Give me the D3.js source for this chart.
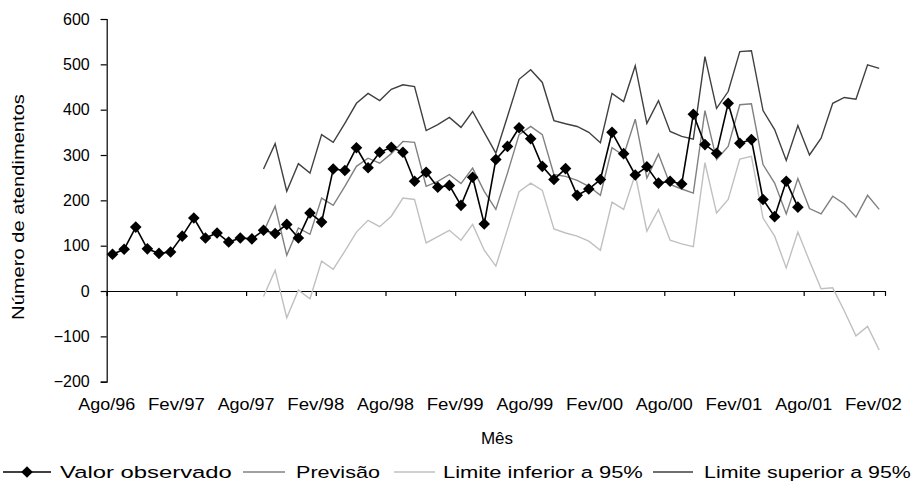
<!DOCTYPE html>
<html><head><meta charset="utf-8">
<script src="https://cdn.jsdelivr.net/npm/d3@7"></script>
<style>
html,body{margin:0;padding:0;background:#fff;}
svg{display:block;font-family:"Liberation Sans",Arial,sans-serif;}
</style></head>
<body>
<svg id="chart" width="915" height="491"></svg>
<script>
// ---- data ----
const tickLabels = ["Ago/96","Fev/97","Ago/97","Fev/98","Ago/98","Fev/99","Ago/99","Fev/00","Ago/00","Fev/01","Ago/01","Fev/02"];
const nMonths = 67;            // Ago/96 .. Fev/02
const forecastStart = 13;      // Set/97
const observado = [81,92,141,93,83,86,121,161,117,128,108,117,115,134,127,147,117,172,152,269,
  266,316,272,306,317,306,242,262,229,233,189,251,148,290,319,360,336,275,246,270,
  211,225,246,350,303,256,274,238,242,236,390,323,304,414,326,334,202,164,242,185];
const previsao = [130,187,79,139,125,205,189,231,275,293,
  282,303,330,328,231,242,257,237,271,220,
  180,260,345,363,345,257,253,244,231,211,
  316,299,379,249,302,235,225,216,398,290,
  319,411,413,279,238,170,248,182,170,209,
  192,163,211,180];
const limInferior = [-12,46,-59,2,-17,66,48,88,130,156,
  142,165,205,202,106,120,134,112,147,90,
  55,136,219,238,222,137,128,121,110,90,
  196,180,257,132,180,112,104,98,283,172,
  202,291,297,161,121,51,130,66,5,7,
  -44,-99,-78,-130];
const limSuperior = [269,325,220,281,260,345,328,370,414,436,
  420,445,455,451,354,367,383,361,396,350,
  304,385,467,488,460,376,369,363,350,327,
  436,418,497,370,420,352,341,335,517,403,
  440,528,530,398,356,288,365,300,337,414,
  427,423,499,491];
const yTicks = [-200,-100,0,100,200,300,400,500,600];

// ---- layout ----
const svg = d3.select("#chart");
const x = d3.scaleLinear().domain([0, nMonths]).range([106.7, 885]);
const y = d3.scaleLinear().domain([-200, 600]).range([381.7, 19]);

const series = [
  {name:"Limite inferior a 95%", vals:limInferior, start:forecastStart, color:"#c0c0c0"},
  {name:"Limite superior a 95%", vals:limSuperior, start:forecastStart, color:"#404040"},
  {name:"Previsão", vals:previsao, start:forecastStart, color:"#808080"},
  {name:"Valor observado", vals:observado, start:0, color:"#000000"}
];

// text whose glyphs are stretched to a target width
function stretched(parent, str, px, py, anchor, size, width, rot) {
  const g = parent.append("g");
  const t = g.append("text").attr("font-size", size + "px").attr("fill", "#000")
    .attr("text-anchor", anchor).text(str);
  const w = t.node().getComputedTextLength();
  const k = width ? width / w : 1;
  g.attr("transform", `translate(${px},${py}) rotate(${rot || 0}) scale(${k},1)`);
  return g;
}

const line = d3.line().x(d => x(d.i + 0.5)).y(d => y(d.v));

// y axis
const yAxis = d3.axisLeft(y).tickValues(yTicks).tickSizeOuter(0).tickSize(6).tickPadding(11);
const gy = svg.append("g").attr("transform","translate(106.7,0)").call(yAxis);
gy.selectAll("text").attr("font-size","16px").attr("fill","#000").attr("font-family","Liberation Sans, Arial, sans-serif");
gy.selectAll("line,path").attr("stroke","#000").attr("stroke-width",1.2);

// x axis at zero
const xAxis = d3.axisBottom(x).tickValues(d3.range(0, 67, 6)).tickSizeOuter(0).tickSize(5).tickFormat(() => "");
const gx = svg.append("g").attr("transform",`translate(0,${y(0)})`).call(xAxis);
gx.selectAll("line,path").attr("stroke","#000").attr("stroke-width",1.2);

// x tick labels at the bottom
const gxl = svg.append("g");
tickLabels.forEach((d,k) => stretched(gxl, d, x(k*6), 410, "middle", 16, 57, 0));

// lines
series.forEach(s=>{
  const pts = s.vals.map((v,j)=>({i:s.start+j, v}));
  svg.append("path").datum(pts).attr("d",line)
    .attr("fill","none").attr("stroke",s.color)
    .attr("stroke-width", s.start===0 ? 1.6 : 1.4).attr("stroke-linejoin","miter");
});

// diamonds
const diamond = "M0,-5.8L5.8,0L0,5.8L-5.8,0Z";
svg.append("g").selectAll("path").data(observado.map((v,i)=>({i,v}))).join("path")
  .attr("d",diamond).attr("transform",d=>`translate(${x(d.i+0.5)},${y(d.v)})`)
  .attr("fill","#000");

// axis titles
stretched(svg, "Mês", 497, 444, "middle", 17, 0, 0);
stretched(svg, "Número de atendimentos", 24, 207, "middle", 17, 226, -90);

// legend
const legend = [
  {s:series[3], lx:3, lw:48, tx:60, tw:172},
  {s:series[2], lx:243, lw:42, tx:296, tw:84},
  {s:series[0], lx:394, lw:41, tx:443, tw:200},
  {s:series[1], lx:653, lw:40, tx:704, tw:207}
];
const ly = 472;
legend.forEach(l=>{
  svg.append("line").attr("x1",l.lx).attr("x2",l.lx+l.lw).attr("y1",ly).attr("y2",ly)
    .attr("stroke",l.s.color).attr("stroke-width",l.s.start===0?1.6:1.4);
  if(l.s.start===0){
    svg.append("path").attr("d",diamond).attr("transform",`translate(${l.lx+l.lw/2},${ly})`).attr("fill","#000");
  }
  stretched(svg, l.s.name, l.tx, ly+6, "start", 17, l.tw, 0);
});
</script>
</body></html>
